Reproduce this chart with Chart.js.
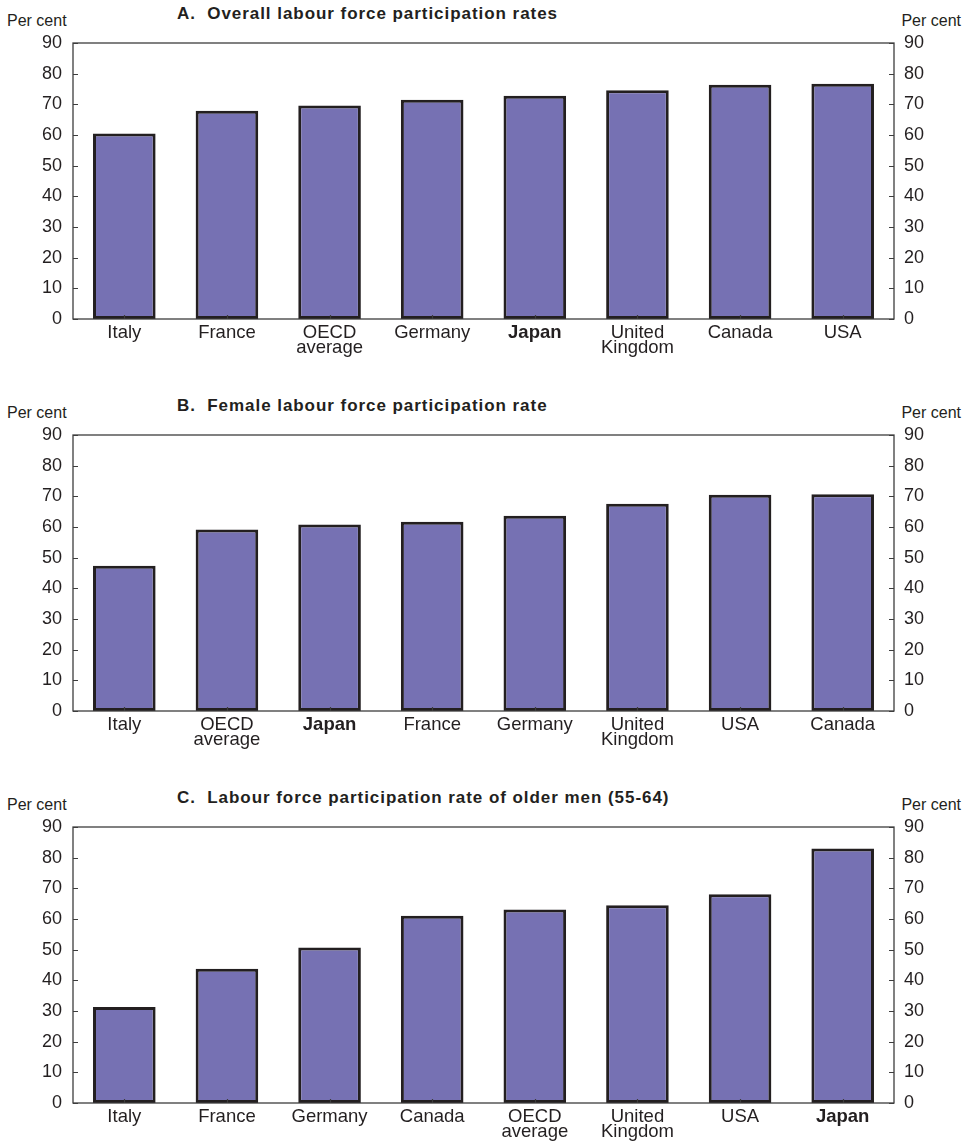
<!DOCTYPE html>
<html>
<head>
<meta charset="utf-8">
<script src="https://cdn.jsdelivr.net/npm/chart.js@4.4.1/dist/chart.umd.min.js"></script>
<style>
  html, body { margin: 0; padding: 0; background: #ffffff; }
  body { width: 972px; height: 1142px; overflow: hidden; font-family: "Liberation Sans", Arial, Helvetica, sans-serif; color: #231f20; }
  .panel { position: relative; width: 972px; }
  .panel canvas { position: absolute; left: 0; top: 0; }
  .unit { position: absolute; font-size: 16px; line-height: 16px; white-space: nowrap; }
  .unit.left { left: 7px; }
  .unit.right { right: 11px; }
  .title { position: absolute; left: 177px; font-size: 17px; line-height: 17px; letter-spacing: 0.95px; font-weight: bold; white-space: nowrap; }
</style>
</head>
<body>
<div class="panel" style="height:392px">
  <div class="title" style="top:4.5px">A.&nbsp;&nbsp;Overall labour force participation rates</div>
  <div class="unit left" style="top:13px">Per cent</div>
  <div class="unit right" style="top:13px">Per cent</div>
  <canvas id="chartA" width="972" height="392"></canvas>
</div>
<div class="panel" style="height:392px">
  <div class="title" style="top:4.5px">B.&nbsp;&nbsp;Female labour force participation rate</div>
  <div class="unit left" style="top:13px">Per cent</div>
  <div class="unit right" style="top:13px">Per cent</div>
  <canvas id="chartB" width="972" height="392"></canvas>
</div>
<div class="panel" style="height:358px">
  <div class="title" style="top:4.5px">C.&nbsp;&nbsp;Labour force participation rate of older men (55-64)</div>
  <div class="unit left" style="top:13px">Per cent</div>
  <div class="unit right" style="top:13px">Per cent</div>
  <canvas id="chartC" width="972" height="358"></canvas>
</div>
<script>
// Panel A: overall participation rates (per cent)
const categoriesA = ['Italy', 'France', ['OECD', 'average'], 'Germany', 'Japan', ['United', 'Kingdom'], 'Canada', 'USA'];
const valuesA = [60.5, 67.9, 69.6, 71.5, 72.8, 74.6, 76.4, 76.7];

// Panel B: female participation rates (per cent)
const categoriesB = ['Italy', ['OECD', 'average'], 'Japan', 'France', 'Germany', ['United', 'Kingdom'], 'USA', 'Canada'];
const valuesB = [47.4, 59.2, 60.8, 61.7, 63.7, 67.6, 70.5, 70.7];

// Panel C: participation rates of men aged 55-64 (per cent)
const categoriesC = ['Italy', 'France', 'Germany', 'Canada', ['OECD', 'average'], ['United', 'Kingdom'], 'USA', 'Japan'];
const valuesC = [31.3, 43.8, 50.7, 61.1, 63.1, 64.5, 68.1, 83.0];

// Value axis range shared by all panels
const axisMin = 0;
const axisMax = 90;
const axisStep = 10;

const FONT = '"Liberation Sans", Arial, Helvetica, sans-serif';
const INK = '#231f20';
const FILL = '#7671b3';
const FRAME = '#3d3d3d';

// Plot frame plus short inward tick marks on both value axes and the category axis
const framePlugin = {
  id: 'frame',
  afterDatasetsDraw(chart) {
    const { ctx, chartArea: a, scales } = chart;
    ctx.save();
    ctx.strokeStyle = FRAME;
    ctx.lineWidth = 1.3;
    ctx.strokeRect(a.left, a.top, a.right - a.left, a.bottom - a.top);
    ctx.lineWidth = 1.2;
    ctx.beginPath();
    scales.y.ticks.forEach((t, i) => {
      const py = Math.round(scales.y.getPixelForTick(i)) + 0.5;
      ctx.moveTo(a.left, py); ctx.lineTo(a.left + 5, py);
    });
    scales.y2.ticks.forEach((t, i) => {
      const py = Math.round(scales.y2.getPixelForTick(i)) + 0.5;
      ctx.moveTo(a.right - 5, py); ctx.lineTo(a.right, py);
    });
    scales.x.ticks.forEach((t, i) => {
      const px = Math.round(scales.x.getPixelForTick(i)) + 0.5;
      ctx.moveTo(px, a.bottom); ctx.lineTo(px, a.bottom - 4);
    });
    ctx.stroke();
    ctx.restore();
  }
};

function valueAxis(position, fitWidth) {
  return {
    type: 'linear',
    position: position,
    min: axisMin,
    max: axisMax,
    grid: { display: false, drawTicks: false },
    border: { display: false },
    ticks: {
      stepSize: axisStep,
      padding: position === 'left' ? 11 : 10,
      color: INK,
      font: { family: FONT, size: 18 }
    },
    afterFit(scale) { scale.width = fitWidth; }
  };
}

function makeChart(id, labels, values, xHeight) {
  return new Chart(document.getElementById(id), {
    type: 'bar',
    data: {
      labels: labels,
      datasets: [{
        data: values,
        backgroundColor: FILL,
        borderColor: INK,
        borderWidth: 3,
        borderSkipped: false,
        categoryPercentage: 1,
        barPercentage: 0.61
      }]
    },
    options: {
      responsive: false,
      animation: false,
      devicePixelRatio: 1,
      layout: { padding: { top: 43, left: 0, right: 0, bottom: 0 } },
      plugins: { legend: { display: false }, tooltip: { enabled: false }, title: { display: false } },
      scales: {
        x: {
          grid: { display: false, drawTicks: false },
          border: { display: false },
          ticks: {
            padding: 7,
            maxRotation: 0,
            autoSkip: false,
            color: INK,
            font: (c) => ({
              family: FONT,
              size: 18.5,
              lineHeight: 0.8,
              weight: (c.tick && c.tick.label === 'Japan') ? 'bold' : 'normal'
            })
          },
          afterFit(scale) { scale.height = xHeight; }
        },
        y: valueAxis('left', 73),
        y2: valueAxis('right', 78)
      }
    },
    plugins: [framePlugin]
  });
}

makeChart('chartA', categoriesA, valuesA, 73);
makeChart('chartB', categoriesB, valuesB, 73);
makeChart('chartC', categoriesC, valuesC, 39);
</script>
</body>
</html>
